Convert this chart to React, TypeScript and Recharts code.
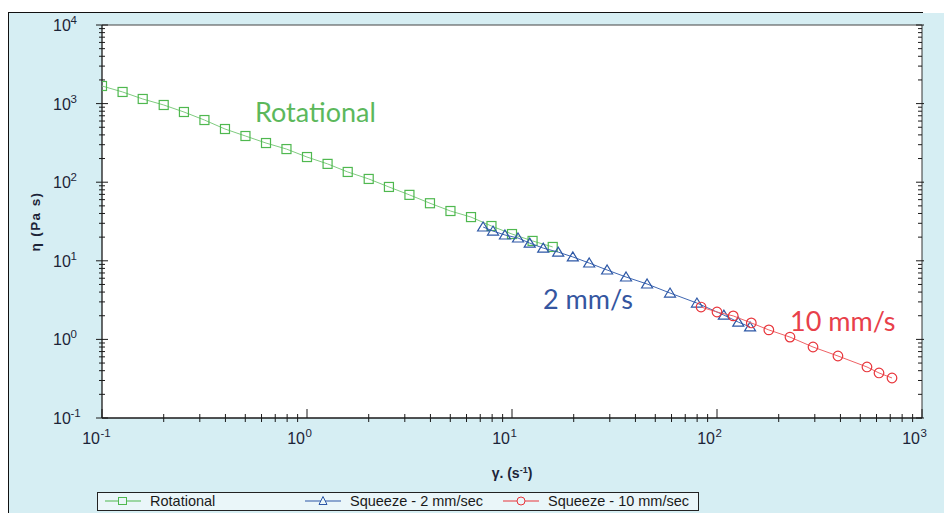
import { CartesianGrid, Scatter, ScatterChart, XAxis, YAxis } from 'recharts';

// Rotational sweep
const rotShear = [
  0.1, 0.126, 0.158, 0.2, 0.251, 0.316, 0.398, 0.501, 0.631, 0.794, 1, 1.26, 1.58, 2, 2.51, 3.16,
  3.98, 5.01, 6.31, 7.94, 10, 12.6, 15.8,
];
const rotVisc = [
  1675, 1406, 1145, 960, 782, 618, 475, 387, 315, 264, 209, 171, 135, 110, 87, 69, 54, 43, 36,
  27.7, 21.9, 17.9, 15.0,
];

// Squeeze - 2 mm/sec
const sq2Shear = [7.23, 8.08, 9.24, 10.7, 12.2, 14.2, 16.8, 19.8, 23.8, 29.1, 36.0, 45.6, 59.0, 79.8, 108, 127, 145];
const sq2Visc = [26.9, 23.9, 21.3, 19.5, 16.8, 14.5, 12.9, 11.2, 9.37, 7.64, 6.22, 5.07, 3.89, 2.9, 2.04, 1.66, 1.44];

// Squeeze - 10 mm/sec
const sq10Shear = [83.6, 100, 120, 147, 179, 227, 294, 389, 539, 617, 714];
const sq10Visc = [2.58, 2.23, 1.99, 1.62, 1.32, 1.07, 0.8, 0.615, 0.446, 0.374, 0.323];

const xDecades = [0.1, 1, 10, 100, 1000];
const yDecades = [0.1, 1, 10, 100, 1000, 10000];
const minorSteps = [2, 3, 4, 5, 6, 7, 8, 9];

const withMinors = (decades: number[]) => [
  ...decades,
  ...decades.slice(0, -1).flatMap((d) => minorSteps.map((m) => d * m)),
];
const xTicks = withMinors(xDecades);
const yTicks = withMinors(yDecades);

const toPoints = (xs: number[], ys: number[]) => xs.map((x, i) => ({ x, y: ys[i] }));
const rotational = toPoints(rotShear, rotVisc);
const squeeze2 = toPoints(sq2Shear, sq2Visc);
const squeeze10 = toPoints(sq10Shear, sq10Visc);

const GREEN = '#4fb84f';
const GREEN_LINE = '#7fcc7f';
const BLUE = '#2c57a6';
const BLUE_LINE = '#3f67b2';
const RED = '#e8353b';
const RED_LINE = '#ef6266';
const AXIS = '#1a1a1a';
const LABEL = '#1c2438';
const FONT = '"Liberation Sans", Arial, sans-serif';

const exponent = (v: number) => Math.round(Math.log10(v));
const isMajor = (v: number) => Math.abs(Math.log10(v) - exponent(v)) < 1e-6;

const BottomTick = (props: any) => {
  const { x, y, payload } = props;
  const major = isMajor(payload.value);
  return (
    <g>
      <line x1={x} x2={x} y1={y - (major ? 9 : 4)} y2={y + (major ? 0 : 4)} stroke={AXIS} />
      {major && (
        <>
          <text x={x - 2} y={y + 26} textAnchor="end" fontSize={16} fill={LABEL} fontFamily={FONT}>
            10
          </text>
          <text x={x - 1.5} y={y + 19} fontSize={11.5} fill={LABEL} fontFamily={FONT}>
            {exponent(payload.value)}
          </text>
        </>
      )}
    </g>
  );
};

const TopTick = (props: any) => {
  const { x, y, payload } = props;
  const major = isMajor(payload.value);
  return <line x1={x} x2={x} y1={y} y2={y + (major ? 7 : 4)} stroke={AXIS} />;
};

const LeftTick = (props: any) => {
  const { x, y, payload } = props;
  const major = isMajor(payload.value);
  const half = major ? 6 : 3;
  return (
    <g>
      <line x1={x - half} x2={x + half} y1={y} y2={y} stroke={AXIS} />
      {major && (
        <>
          <text x={x - 49} y={y + 6} fontSize={16} fill={LABEL} fontFamily={FONT}>
            10
          </text>
          <text x={x - 31.5} y={y - 1} fontSize={11.5} fill={LABEL} fontFamily={FONT}>
            {exponent(payload.value)}
          </text>
        </>
      )}
    </g>
  );
};

const RightTick = (props: any) => {
  const { x, y, payload } = props;
  const major = isMajor(payload.value);
  return <line x1={x - (major ? 6 : 4)} x2={x + (major ? 2 : 0)} y1={y} y2={y} stroke={AXIS} />;
};

const Square = (props: any) => (
  <rect x={props.cx - 4.5} y={props.cy - 4.5} width={9} height={9} fill="none" stroke={GREEN} strokeWidth={1.2} />
);
const Triangle = (props: any) => (
  <path
    d={`M${props.cx},${props.cy - 5} L${props.cx + 5.5},${props.cy + 4} L${props.cx - 5.5},${props.cy + 4} Z`}
    fill="none"
    stroke={BLUE}
    strokeWidth={1.2}
  />
);
const Ring = (props: any) => (
  <circle cx={props.cx} cy={props.cy} r={4.8} fill="none" stroke={RED} strokeWidth={1.2} />
);

const XTitle = (props: any) => {
  const { viewBox } = props;
  const cx = viewBox.x + viewBox.width / 2;
  return (
    <text x={cx} y={viewBox.y + 60} textAnchor="middle" fontSize={14} fontWeight="bold" fill={LABEL} fontFamily={FONT}>
      γ. (s
      <tspan dy={-5} fontSize={9}>
        -1
      </tspan>
      <tspan dy={5}>)</tspan>
    </text>
  );
};

const YTitle = (props: any) => {
  const { viewBox } = props;
  const x = viewBox.x + viewBox.width - 67;
  const y = viewBox.y + viewBox.height / 2;
  return (
    <text
      x={x}
      y={y}
      transform={`rotate(-90 ${x} ${y})`}
      textAnchor="middle"
      dominantBaseline="central"
      fontSize={13.5}
      fontWeight="bold"
      letterSpacing={1.4}
      fill={LABEL}
      fontFamily={FONT}
    >
      η (Pa s)
    </text>
  );
};

const legendItems = [
  { name: 'Rotational', color: GREEN, marker: 'square', left: 105, textLeft: 150 },
  { name: 'Squeeze - 2 mm/sec', color: BLUE, marker: 'triangle', left: 305, textLeft: 350 },
  { name: 'Squeeze - 10 mm/sec', color: RED, marker: 'circle', left: 503, textLeft: 548 },
];

const LegendIcon = ({ color, marker }: { color: string; marker: string }) => (
  <svg width={36} height={12} style={{ display: 'block' }}>
    <line x1={0} x2={36} y1={6} y2={6} stroke={color} strokeWidth={1} />
    {marker === 'square' && <rect x={13.5} y={2.5} width={8} height={7} fill="#eaf6f9" stroke={color} />}
    {marker === 'triangle' && <path d="M18,1.5 L22,9.5 L14,9.5 Z" fill="#eaf6f9" stroke={color} />}
    {marker === 'circle' && <circle cx={18} cy={6} r={4} fill="#eaf6f9" stroke={color} />}
  </svg>
);

export default function App() {
  return (
    <div style={{ position: 'absolute', left: 0, top: 0, width: 944, height: 513, overflow: 'hidden', background: '#fff' }}>
      <div
        style={{
          position: 'absolute',
          left: 8,
          top: 13,
          width: 1000,
          height: 600,
          background: '#d6eef3',
          borderLeft: '1.5px solid #111',
        }}
      />
      <div style={{ position: 'absolute', left: 8, top: 12, width: 915, borderTop: '1.5px solid #111' }} />

      <div style={{ position: 'absolute', left: 0, top: 0 }}>
        <ScatterChart width={944} height={513} margin={{ top: 24, right: 21, bottom: 35, left: 42 }}>
          <CartesianGrid horizontal={false} vertical={false} fill="#ffffff" />
          <XAxis
            dataKey="x"
            type="number"
            scale="log"
            domain={[0.1, 1000]}
            ticks={xTicks}
            interval={0}
            allowDataOverflow
            height={60}
            tickSize={0}
            tickMargin={0}
            tickLine={false}
            tick={<BottomTick />}
            axisLine={{ stroke: AXIS, strokeWidth: 1.3 }}
            label={<XTitle />}
          />
          <XAxis
            xAxisId="top"
            orientation="top"
            type="number"
            scale="log"
            domain={[0.1, 1000]}
            ticks={xTicks}
            interval={0}
            allowDataOverflow
            height={1}
            tickSize={0}
            tickMargin={0}
            tickLine={false}
            tick={<TopTick />}
            axisLine={{ stroke: '#444', strokeWidth: 1 }}
          />
          <YAxis
            dataKey="y"
            type="number"
            scale="log"
            domain={[0.1, 10000]}
            ticks={yTicks}
            interval={0}
            allowDataOverflow
            width={60}
            tickSize={0}
            tickMargin={0}
            tickLine={false}
            tick={<LeftTick />}
            axisLine={{ stroke: AXIS, strokeWidth: 1.3 }}
            label={<YTitle />}
          />
          <YAxis
            yAxisId="right"
            orientation="right"
            type="number"
            scale="log"
            domain={[0.1, 10000]}
            ticks={yTicks}
            interval={0}
            allowDataOverflow
            width={1}
            tickSize={0}
            tickMargin={0}
            tickLine={false}
            tick={<RightTick />}
            axisLine={{ stroke: '#333', strokeWidth: 1 }}
          />
          <Scatter
            name="Rotational"
            data={rotational}
            line={{ stroke: GREEN_LINE, strokeWidth: 1 }}
            shape={<Square />}
            isAnimationActive={false}
          />
          <Scatter
            name="Squeeze - 2 mm/sec"
            data={squeeze2}
            line={{ stroke: BLUE_LINE, strokeWidth: 1 }}
            shape={<Triangle />}
            isAnimationActive={false}
          />
          <Scatter
            name="Squeeze - 10 mm/sec"
            data={squeeze10}
            line={{ stroke: RED_LINE, strokeWidth: 1 }}
            shape={<Ring />}
            isAnimationActive={false}
          />
        </ScatterChart>
      </div>

      <div style={{ position: 'absolute', left: 255, top: 97, fontFamily: 'Lato, sans-serif', fontSize: 27, color: '#5cb85c', lineHeight: '30px' }}>
        Rotational
      </div>
      <div style={{ position: 'absolute', left: 543, top: 284, fontFamily: 'Lato, sans-serif', fontSize: 27, color: '#3556a0', lineHeight: '30px' }}>
        2 mm/s
      </div>
      <div style={{ position: 'absolute', left: 790, top: 306, fontFamily: 'Lato, sans-serif', fontSize: 27, color: '#e8404a', lineHeight: '30px' }}>
        10 mm/s
      </div>

      <div
        style={{
          position: 'absolute',
          left: 97,
          top: 492,
          width: 600,
          height: 17,
          border: '1px solid #222',
          background: '#eaf6f9',
          fontFamily: FONT,
          fontSize: 14.5,
          color: '#1a1a1a',
        }}
      >
        {legendItems.map((it) => (
          <div key={it.name}>
            <div style={{ position: 'absolute', left: it.left - 98, top: 2 }}>
              <LegendIcon color={it.color} marker={it.marker} />
            </div>
            <div style={{ position: 'absolute', left: it.textLeft - 98, top: 0, lineHeight: '17px', whiteSpace: 'nowrap' }}>
              {it.name}
            </div>
          </div>
        ))}
      </div>
    </div>
  );
}
